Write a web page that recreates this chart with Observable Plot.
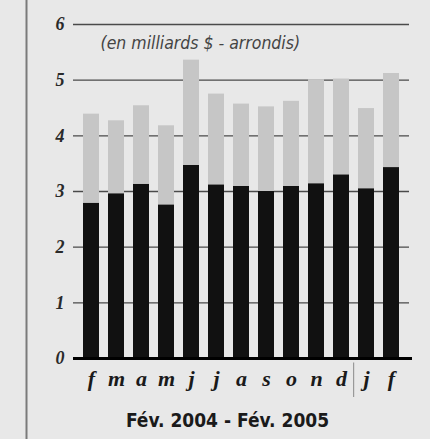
<!DOCTYPE html>
<html><head><meta charset="utf-8">
<script src="https://cdn.jsdelivr.net/npm/d3@7"></script>
<script src="https://cdn.jsdelivr.net/npm/@observablehq/plot@0.6"></script>
<style>
html,body{margin:0;padding:0;background:#e8e8e8;}
#chart svg{display:block;}
</style></head><body><div id="chart"></div>
<script>
const keys = ["2004-02","2004-03","2004-04","2004-05","2004-06","2004-07","2004-08","2004-09","2004-10","2004-11","2004-12","2005-01","2005-02"];
const monthLabels = ["f","m","a","m","j","j","a","s","o","n","d","j","f"];
const lowerValues = [2.79,2.96,3.13,2.76,3.47,3.12,3.09,3.00,3.09,3.14,3.30,3.05,3.43];
const totalValues = [4.39,4.27,4.54,4.18,5.36,4.75,4.57,4.52,4.62,5.01,5.02,4.49,5.12];
const yTicks = [0,1,2,3,4,5,6];
const unitNote = "(en milliards $ - arrondis)";
const periodTitle = "Fév. 2004 - Fév. 2005";
const yearBreak = ["2005-01"];

const rows = keys.map((k,i)=>({key:k, label:monthLabels[i], lower:lowerValues[i], total:totalValues[i]}));
const labelOf = new Map(keys.map((k,i)=>[k, monthLabels[i]]));

const serif = "'Liberation Serif', 'DejaVu Serif', serif";
const narrow = "'Liberation Sans Narrow', 'DejaVu Sans Condensed', 'Liberation Sans', sans-serif";

const chart = Plot.plot({
  width: 430, height: 439,
  marginLeft: 73, marginRight: 21, marginTop: 24, marginBottom: 81,
  style: {background: "transparent", overflow: "visible"},
  x: {type: "band", domain: keys, paddingInner: 0.34, paddingOuter: 0.18},
  y: {domain: [0, 6]},
  marks: [
    Plot.gridY(yTicks.filter(d=>d>0), {stroke: "#4a4a4a", strokeOpacity: 1, strokeWidth: 1.3}),
    Plot.barY(rows, {x: "key", y1: 0, y2: "lower", fill: "#111"}),
    Plot.barY(rows, {x: "key", y1: "lower", y2: "total", fill: "#c6c6c6"}),
    Plot.ruleY([0], {stroke: "#000", strokeWidth: 3, insetRight: -3}),
    Plot.ruleX(yearBreak, {x: d=>d, dx: -12.9, y1: -0.08, y2: -0.7, stroke: "#999", strokeWidth: 1.2}),
    Plot.axisY({ticks: yTicks, tickFormat: d3.format("d"), tickSize: 0, tickPadding: 9, fontSize: 18, fontFamily: serif, fontWeight: "bold", fontStyle: "italic", fill: "#2a2a2a"}),
    Plot.axisX({tickSize: 0, tickPadding: 12, tickFormat: d=>labelOf.get(d), fontSize: 22, fontFamily: serif, fontWeight: "bold", fontStyle: "italic", fill: "#1a1a1a", label: null}),
    Plot.text([unitNote], {frameAnchor: "top-left", dx: 27, dy: 12, fontSize: 17.5, fontFamily: narrow, fontStyle: "italic", fill: "#444"}),
    Plot.text([periodTitle], {frameAnchor: "bottom", lineAnchor: "middle", dx: -14, dy: 62, fontSize: 19, fontFamily: narrow, fontWeight: "bold", fill: "#1a1a1a"})
  ]
});
d3.select(chart).append("line").attr("x1", 26.5).attr("x2", 26.5).attr("y1", 0).attr("y2", 439).attr("stroke", "#7a7a7a").attr("stroke-width", 2);
document.getElementById("chart").appendChild(chart);
</script></body></html>
